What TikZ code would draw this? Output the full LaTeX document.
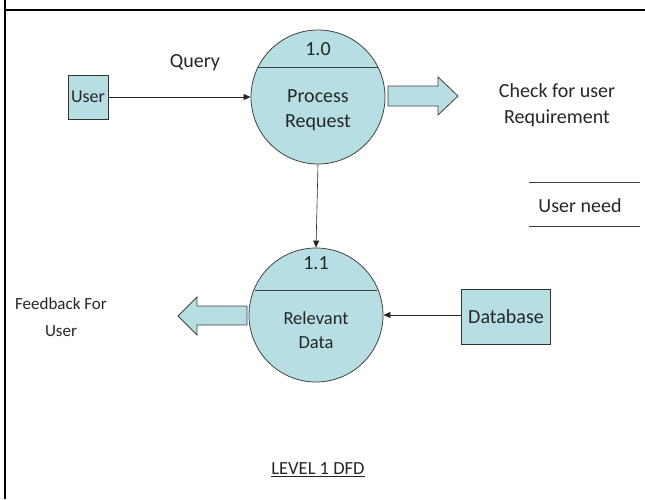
\documentclass[tikz,border=0pt]{standalone}
\usepackage{fontspec}
\setmainfont{Carlito}
\usetikzlibrary{arrows.meta,calc}
\definecolor{procfill}{HTML}{B7DFE3}
\definecolor{edge}{HTML}{404040}
\tikzset{
  txt/.style={font=\fontsize{20}{25}\selectfont, text=black!85, align=center, inner sep=0pt},
  entity/.style={draw=black!80, fill=procfill, line width=0.8pt, minimum width=36pt, minimum height=44pt, inner sep=3pt, text=black!85, font=\fontsize{18}{22}\selectfont},
  proc/.style={circle, draw=edge, fill=procfill, line width=0.8pt, minimum size=134pt, inner sep=0pt},
  flow/.style={-{Triangle[length=7pt,width=6pt]}, line width=0.6pt, draw=black!85},
  fat/.style={draw=edge, fill=procfill, line width=0.8pt},
}
\begin{document}
\begin{tikzpicture}[x=1pt,y=-1pt]
\useasboundingbox (0,0) rectangle (645,499);
% frame
\draw[line width=2.4pt] (5,0) -- (5,499);
\draw[line width=2.4pt] (5,10) -- (645,10);

% nodes
\node[entity] (user) at (88,97) {User};
\node[proc] (p1) at (318,97) {};
\node[proc] (p2) at (316,315) {};
\node[entity, minimum width=89pt, minimum height=55pt, font=\fontsize{20}{24}\selectfont] (db) at (506,317) {Database};

% dividers
\draw[edge, line width=0.8pt] ($(p1.center)+(-60,-30)$) coordinate (p1l) -- ($(p1.center)+(60,-30)$) coordinate (p1r);
\draw[edge, line width=0.8pt] ($(p2.center)+(-61,-25)$) coordinate (p2l) -- ($(p2.center)+(61,-25)$) coordinate (p2r);

% texts in processes
\node[txt] (n10) at (318,49) {1.0};
\node[txt] (pr) at (318,110) {Process\\Request};
\node[txt] (n11) at (316,263) {1.1};
\node[txt, font=\fontsize{18.5}{24}\selectfont] (rd) at (316,330) {Relevant\\Data};

% labels
\node[txt] (query) at (195,63) {Query};
\node[txt, font=\fontsize{20}{26}\selectfont] (check) at (557,105) {Check for user\\Requirement};
\node[txt, font=\fontsize{17}{27}\selectfont] (fb) at (61,317) {Feedback For\\User};
\node[txt] (un) at (580,206) {User need};
\coordinate (unl) at (529,182);
\coordinate (unr) at (640,182);
\coordinate (unl2) at (529,226);
\coordinate (unr2) at (640,226);
\draw[black!75, line width=0.9pt] (unl) -- (unr);
\draw[black!75, line width=0.9pt] (unl2) -- (unr2);
\node[txt, font=\fontsize{18.5}{22}\selectfont] (title) at (318,470) {\underline{LEVEL 1 DFD}};

% flows
\draw[flow] (user.east) -- (p1.west);
\draw[flow] (p1.south) -- (p2.north);
\draw[flow] (db.west |- p2.east) -- (p2.east);

% fat arrows
\draw[fat] (388,86) -- (438,86) -- (438,77) -- (458,96) -- (438,115) -- (438,106) -- (388,106) -- cycle;
\draw[fat] (247,306) -- (197,306) -- (197,297) -- (178,316) -- (197,335) -- (197,325) -- (247,325) -- cycle;
\end{tikzpicture}
\end{document}
